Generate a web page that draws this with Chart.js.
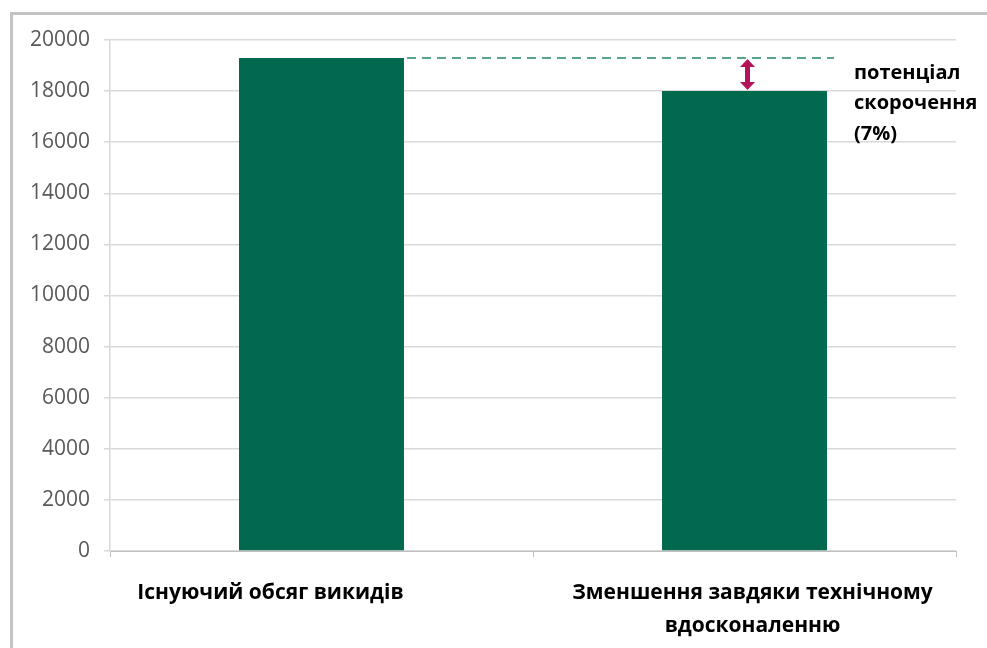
<!DOCTYPE html>
<html>
<head>
<meta charset="utf-8">
<script src="https://cdn.jsdelivr.net/npm/chart.js@4/dist/chart.umd.min.js"></script>
<style>
  html, body { margin: 0; padding: 0; background: #fff; }
  #wrap { width: 987px; height: 648px; position: relative; }
</style>
</head>
<body>
<div id="wrap"><canvas id="emissionsChart"></canvas></div>
<script>
const categories = [
    ['Існуючий обсяг викидів'],
    ['Зменшення завдяки технічному', 'вдосконаленню']
];
const emissions = [19300, 18000];
const yTicks = [0, 2000, 4000, 6000, 8000, 10000, 12000, 14000, 16000, 18000, 20000];
const noteLines = ['потенціал', 'скорочення', '(7%)'];

const barColor = '#00694e';
const gridColor = '#d9d9d9';
// Excel placed the first label a bit left of its bar
const labelShift = [-51, 8];

// frame around the chart, like the Excel chart border
const framePlugin = {
    id: 'frame',
    beforeDraw(chart) {
        const ctx = chart.ctx;
        ctx.save();
        ctx.strokeStyle = '#c3c3c3';
        ctx.lineWidth = 3;
        ctx.beginPath();
        ctx.moveTo(11.5, chart.height);
        ctx.lineTo(11.5, 13.5);
        ctx.lineTo(chart.width, 13.5);
        ctx.stroke();
        ctx.restore();
    }
};

// category labels under the axis
const categoryLabelPlugin = {
    id: 'categoryLabels',
    afterDraw(chart) {
        const xScale = chart.scales.x;
        const ctx = chart.ctx;
        ctx.save();
        ctx.fillStyle = '#000';
        ctx.font = 'bold 21px "Open Sans"';
        ctx.textAlign = 'center';
        ctx.textBaseline = 'middle';
        categories.forEach((lines, i) => {
            const x = xScale.getPixelForValue(i) + labelShift[i];
            lines.forEach((line, j) => {
                ctx.fillText(line, x, xScale.bottom - 97 + 42 + j * 33);
            });
        });
        ctx.restore();
    }
};

// dashed level line, double arrow and the note on the right
const gapPlugin = {
    id: 'gap',
    afterDatasetsDraw(chart) {
        const bars = chart.getDatasetMeta(0).data;
        const first = bars[0];
        const second = bars[1];
        const ctx = chart.ctx;
        const yTop = first.y;
        const yLow = second.y;

        ctx.save();
        ctx.strokeStyle = '#5aa58a';
        ctx.lineWidth = 2;
        ctx.setLineDash([9, 6]);
        ctx.beginPath();
        ctx.moveTo(first.x + first.width / 2 + 3, yTop);
        ctx.lineTo(second.x + second.width / 2 + 7, yTop);
        ctx.stroke();
        ctx.setLineDash([]);

        const ax = second.x + 3;
        const head = 8;
        ctx.fillStyle = '#b5125c';
        ctx.fillRect(ax - 2.5, yTop + head, 5, yLow - yTop - 2 * head);
        ctx.beginPath();
        ctx.moveTo(ax, yTop + 1);
        ctx.lineTo(ax - 7.5, yTop + head + 1);
        ctx.lineTo(ax + 7.5, yTop + head + 1);
        ctx.closePath();
        ctx.fill();
        ctx.beginPath();
        ctx.moveTo(ax, yLow - 1);
        ctx.lineTo(ax - 7.5, yLow - head - 1);
        ctx.lineTo(ax + 7.5, yLow - head - 1);
        ctx.closePath();
        ctx.fill();

        ctx.fillStyle = '#000';
        ctx.font = 'bold 20px "Open Sans"';
        ctx.textBaseline = 'middle';
        ctx.textAlign = 'left';
        noteLines.forEach((line, i) => {
            ctx.fillText(line, 854, 73 + i * 30.5);
        });
        ctx.restore();
    }
};

const ctx = document.getElementById('emissionsChart').getContext('2d');
new Chart(ctx, {
    type: 'bar',
    data: {
        labels: categories,
        datasets: [{
            data: emissions,
            backgroundColor: barColor,
            borderWidth: 0,
            barPercentage: 0.39,
            categoryPercentage: 1
        }]
    },
    options: {
        responsive: true,
        maintainAspectRatio: false,
        animation: false,
        layout: { padding: { top: 40, right: 31, left: 0, bottom: 0 } },
        plugins: {
            legend: { display: false },
            tooltip: { enabled: false }
        },
        scales: {
            x: {
                grid: {
                    offset: true,
                    drawOnChartArea: false,
                    drawTicks: true,
                    tickLength: 6,
                    color: '#bfbfbf'
                },
                border: { color: '#bfbfbf', width: 1 },
                ticks: { display: false },
                afterFit(scale) { scale.height = 97; }
            },
            y: {
                min: 0,
                max: 20000,
                afterBuildTicks(scale) {
                    scale.ticks = yTicks.map(v => ({ value: v }));
                },
                grid: {
                    color: gridColor,
                    lineWidth: 1.5,
                    tickLength: 6
                },
                border: { color: gridColor, width: 1.5 },
                ticks: {
                    color: '#595959',
                    padding: 14,
                    font: { family: 'Open Sans', size: 21 },
                    callback: (value) => String(value)
                },
                afterFit(scale) { scale.width = 110; }
            }
        }
    },
    plugins: [framePlugin, categoryLabelPlugin, gapPlugin]
});
</script>
</body>
</html>
